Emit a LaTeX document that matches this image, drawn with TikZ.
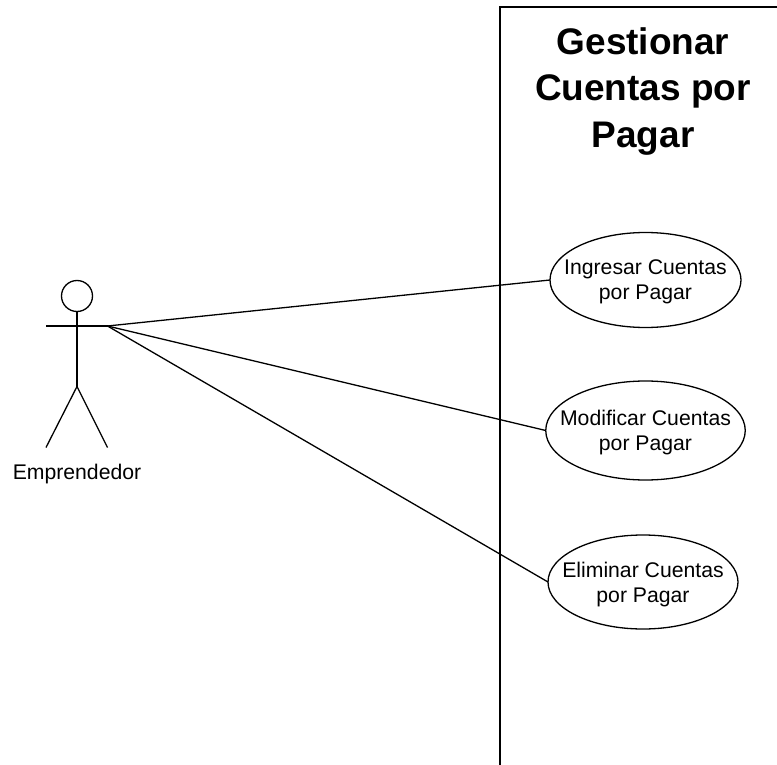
\documentclass[tikz,border=0pt]{standalone}
\usepackage{fontspec}
\setmainfont{Liberation Sans}
\usetikzlibrary{shapes.geometric}
\tikzset{
  line/.style={draw=black,line width=1.3pt},
  usecase/.style={ellipse,draw=black,line width=1.3pt,inner sep=0pt,outer sep=0pt},
  uclabel/.style={align=center,inner sep=0pt,font=\fontsize{21.2}{25}\selectfont},
}
\begin{document}
\begin{tikzpicture}[x=1pt,y=-1pt]
\useasboundingbox (0,0) rectangle (777,765);
% system boundary
\coordinate (bl) at (499.5,765);
\coordinate (tl) at (499.5,7.5);
\coordinate (tr) at (777,7.5);
\draw[draw=black,line width=2pt] (bl) -- (tl) -- (tr);
\node[align=center,font=\bfseries\fontsize{37}{46.5}\selectfont] (title) at (643,91.5) {Gestionar\\Cuentas por\\Pagar};
% use cases
\node[usecase,minimum width=191pt,minimum height=95pt] (ing) at (645.5,280) {};
\node[uclabel] (ingt) at (645.5,281.5) {Ingresar Cuentas\\por Pagar};
\node[usecase,minimum width=199.5pt,minimum height=99pt] (mod) at (645.5,430.5) {};
\node[uclabel] (modt) at (645.5,432.5) {Modificar Cuentas\\por Pagar};
\node[usecase,minimum width=190pt,minimum height=94pt] (eli) at (643,582) {};
\node[uclabel] (elit) at (643,584.5) {Eliminar Cuentas\\por Pagar};
% actor
\node[circle,draw=black,line width=1.3pt,minimum size=31pt,inner sep=0pt,outer sep=0pt] (head) at (77,296) {};
\coordinate (lhand) at (46,326);
\coordinate (rhand) at (107.5,326);
\coordinate (hip) at (77,386.5);
\coordinate (lfoot) at (46,447.5);
\coordinate (rfoot) at (107.5,447.5);
\draw[line] (head.south) -- (hip);
\draw[line] (lhand) -- (rhand);
\draw[line] (lfoot) -- (hip) -- (rfoot);
\node[font=\fontsize{21.2}{25}\selectfont] (actor) at (77,474) {Emprendedor};
% connectors
\draw[line] (rhand) -- (ing.west);
\draw[line] (rhand) -- (mod.west);
\draw[line] (rhand) -- (eli.west);
\end{tikzpicture}
\end{document}
